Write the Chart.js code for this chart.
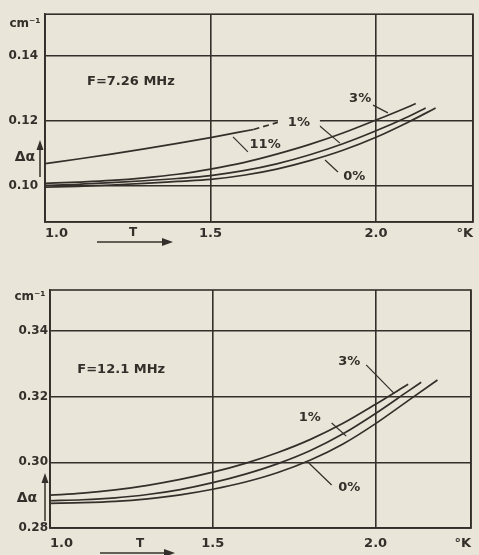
<!DOCTYPE html>
<html>
<head>
<meta charset="utf-8">
<script src="https://cdn.jsdelivr.net/npm/chart.js"></script>
<style>
  html, body { margin: 0; padding: 0; background: #e9e5d8; }
  .panel { position: absolute; left: 0; width: 479px; }
  #top { top: 0; height: 270px; }
  #bot { top: 270px; height: 285px; }
</style>
</head>
<body>
<div class="panel" id="top"><canvas id="c1"></canvas></div>
<div class="panel" id="bot"><canvas id="c2"></canvas></div>
<script>
// --- upper panel, F = 7.26 MHz ---
const topT11 = [1.0, 1.1, 1.2, 1.3, 1.4, 1.5, 1.63];
const top11 = [0.1069, 0.1083, 0.1098, 0.1114, 0.1131, 0.1149, 0.1174];
const topT11Dash = [1.63, 1.71];
const top11Dash = [0.1174, 0.1198];
const topT3 = [1.0, 1.1, 1.2, 1.3, 1.4, 1.5, 1.6, 1.7, 1.8, 1.9, 2.0, 2.1, 2.12];
const top3 = [0.1008, 0.1012, 0.1017, 0.1025, 0.1036, 0.1052, 0.1072, 0.1098, 0.1128, 0.1163, 0.1203, 0.1245, 0.1254];
const topT1 = [1.0, 1.1, 1.2, 1.3, 1.4, 1.5, 1.6, 1.7, 1.8, 1.9, 2.0, 2.1, 2.15];
const top1 = [0.1002, 0.1005, 0.1010, 0.1016, 0.1023, 0.1032, 0.1047, 0.1068, 0.1096, 0.1130, 0.1170, 0.1215, 0.1240];
const topT0 = [1.0, 1.1, 1.2, 1.3, 1.4, 1.5, 1.6, 1.7, 1.8, 1.9, 2.0, 2.1, 2.18];
const top0 = [0.0996, 0.0999, 0.1003, 0.1008, 0.1014, 0.1020, 0.1033, 0.1052, 0.1078, 0.1110, 0.1150, 0.1198, 0.1240];
const topYTicks = [0.10, 0.12, 0.14];
const topYLabels = ['0.10', '0.12', '0.14'];

// --- lower panel, F = 12.1 MHz ---
const botT3 = [1.0, 1.1, 1.2, 1.3, 1.4, 1.5, 1.6, 1.7, 1.8, 1.9, 2.0, 2.1];
const bot3 = [0.2900, 0.2906, 0.2916, 0.2930, 0.2948, 0.2970, 0.2997, 0.3030, 0.3070, 0.3119, 0.3177, 0.3238];
const botT1 = [1.0, 1.1, 1.2, 1.3, 1.4, 1.5, 1.6, 1.7, 1.8, 1.9, 2.0, 2.1, 2.14];
const bot1 = [0.2883, 0.2886, 0.2892, 0.2902, 0.2917, 0.2938, 0.2964, 0.2996, 0.3036, 0.3087, 0.3149, 0.3217, 0.3244];
const botT0 = [1.0, 1.1, 1.2, 1.3, 1.4, 1.5, 1.6, 1.7, 1.8, 1.9, 2.0, 2.1, 2.19];
const bot0 = [0.2875, 0.2877, 0.2881, 0.2889, 0.2901, 0.2918, 0.2940, 0.2969, 0.3007, 0.3056, 0.3118, 0.3188, 0.3251];
const botYTicks = [0.28, 0.30, 0.32, 0.34];
const botYLabels = ['0.28', '0.30', '0.32', '0.34'];

const xTicks = [1.0, 1.5, 2.0, 2.293];
const xLabels = ['1.0', '1.5', '2.0', '°K'];

const INK = '#342f2a';
const PAPER = '#e9e5d8';
const FONT = '"DejaVu Sans", sans-serif';

const pts = (xs, ys) => xs.map((x, i) => ({ x, y: ys[i] }));

function line(data, dash) {
  return {
    data,
    borderColor: INK,
    borderWidth: 1.7,
    borderDash: dash || [],
    pointRadius: 0,
    fill: false,
    cubicInterpolationMode: 'monotone',
  };
}

function arrowHead(ctx, x, y, dir) {
  ctx.beginPath();
  if (dir === 'right') {
    ctx.moveTo(x, y); ctx.lineTo(x - 11, y - 4); ctx.lineTo(x - 11, y + 4);
  } else {
    ctx.moveTo(x, y); ctx.lineTo(x - 3.5, y + 10); ctx.lineTo(x + 3.5, y + 10);
  }
  ctx.closePath();
  ctx.fill();
}

// frame + labels drawn on top of the chart
const decor = {
  id: 'decor',
  afterDraw(chart, args, opts) {
    const { ctx, chartArea: a, scales } = chart;
    const X = scales.x, Y = scales.y;
    ctx.save();
    ctx.strokeStyle = INK;
    ctx.fillStyle = INK;
    ctx.lineWidth = 1.6;
    ctx.strokeRect(a.left, a.top, a.right - a.left, a.bottom - a.top);

    ctx.lineWidth = 1.2;
    (opts.leaders || []).forEach(([x1, y1, x2, y2]) => {
      ctx.beginPath();
      ctx.moveTo(X.getPixelForValue(x1), Y.getPixelForValue(y1));
      ctx.lineTo(X.getPixelForValue(x2), Y.getPixelForValue(y2));
      ctx.stroke();
    });

    ctx.textBaseline = 'middle';
    (opts.notes || []).forEach((n) => {
      ctx.font = n.font || 'bold 13px ' + FONT;
      ctx.textAlign = n.align || 'center';
      const px = n.px !== undefined ? n.px : X.getPixelForValue(n.x);
      const py = n.py !== undefined ? n.py : Y.getPixelForValue(n.y);
      if (n.mask) {
        ctx.fillStyle = PAPER;
        ctx.fillRect(px - n.mask / 2, py - 7, n.mask, 14);
        ctx.fillStyle = INK;
      }
      ctx.fillText(n.text, px, py);
    });

    // axis arrows
    const t = opts.tArrow;
    ctx.lineWidth = 1.5;
    ctx.beginPath();
    ctx.moveTo(t.x1, t.y); ctx.lineTo(t.x2 - 6, t.y); ctx.stroke();
    arrowHead(ctx, t.x2, t.y, 'right');
    ctx.font = 'bold 12px ' + FONT;
    ctx.textAlign = 'center';
    ctx.fillText('T', t.tx, t.y - 9);

    const d = opts.dArrow;
    ctx.beginPath();
    ctx.moveTo(d.x, d.y1); ctx.lineTo(d.x, d.y2 + 6); ctx.stroke();
    arrowHead(ctx, d.x, d.y2, 'up');
    ctx.restore();
  },
};

function makeChart(id, cfg) {
  return new Chart(document.getElementById(id), {
    type: 'line',
    data: { datasets: cfg.datasets },
    options: {
      responsive: true,
      maintainAspectRatio: false,
      animation: false,
      layout: { padding: cfg.padding },
      plugins: { legend: { display: false }, tooltip: { enabled: false }, decor: cfg.decor },
      scales: {
        x: {
          type: 'linear',
          min: 1.0,
          max: 2.293,
          afterBuildTicks: (s) => { s.ticks = xTicks.map((v) => ({ value: v })); },
          afterFit: (s) => { s.height = cfg.xHeight; },
          ticks: {
            autoSkip: false,
            maxRotation: 0,
            align: 'inner',
            padding: cfg.xPad,
            color: INK,
            font: { family: FONT, size: 13, weight: 'bold' },
            callback: (v, i) => xLabels[i],
          },
          grid: { color: INK, lineWidth: 1.6, drawTicks: false },
          border: { color: INK, width: 1.6 },
        },
        y: {
          type: 'linear',
          min: cfg.yMin,
          max: cfg.yMax,
          afterBuildTicks: (s) => { s.ticks = cfg.yTicks.map((v) => ({ value: v })); },
          afterFit: (s) => { s.width = cfg.yWidth; },
          ticks: {
            autoSkip: false,
            padding: cfg.yPad,
            color: INK,
            font: { family: FONT, size: 12, weight: 'bold' },
            callback: (v, i) => cfg.yLabels[i],
          },
          grid: { color: INK, lineWidth: 1.6, drawTicks: false },
          border: { color: INK, width: 1.6 },
        },
      },
    },
    plugins: [decor],
  });
}

makeChart('c1', {
  padding: { top: 14, right: 6, left: 0, bottom: 0 },
  xHeight: 48, xPad: 4, yWidth: 45, yPad: 7,
  yMin: 0.0889, yMax: 0.1529, yTicks: topYTicks, yLabels: topYLabels,
  datasets: [
    line(pts(topT11, top11)),
    line(pts(topT11Dash, top11Dash), [6, 4]),
    line(pts(topT3, top3)),
    line(pts(topT1, top1)),
    line(pts(topT0, top0)),
  ],
  decor: {
    notes: [
      { text: 'cm⁻¹', px: 25, py: 24, font: 'bold 12px ' + FONT },
      { text: 'Δα', px: 25, py: 157, font: 'bold 14px ' + FONT },
      { text: 'F=7.26 MHz', x: 1.127, y: 0.1320, align: 'left' },
      { text: '3%', x: 1.952, y: 0.1268 },
      { text: '1%', x: 1.767, y: 0.1194, mask: 42 },
      { text: '11%', x: 1.665, y: 0.1126 },
      { text: '0%', x: 1.934, y: 0.1028 },
    ],
    leaders: [
      [1.991, 0.1249, 2.036, 0.1225],
      [1.816, 0.1197, 1.891, 0.1132],
      [1.568, 0.1151, 1.613, 0.1105],
      [1.846, 0.1080, 1.885, 0.1043],
    ],
    tArrow: { x1: 97, x2: 173, y: 242, tx: 133 },
    dArrow: { x: 40, y1: 177, y2: 140 },
  },
});

makeChart('c2', {
  padding: { top: 20, right: 4, left: 0, bottom: 0 },
  xHeight: 27, xPad: 8, yWidth: 50, yPad: 2,
  yMin: 0.28, yMax: 0.3525, yTicks: botYTicks, yLabels: botYLabels,
  datasets: [
    line(pts(botT3, bot3)),
    line(pts(botT1, bot1)),
    line(pts(botT0, bot0)),
  ],
  decor: {
    notes: [
      { text: 'cm⁻¹', px: 30, py: 27, font: 'bold 12px ' + FONT },
      { text: 'Δα', px: 27, py: 228, font: 'bold 14px ' + FONT },
      { text: 'F=12.1 MHz', x: 1.084, y: 0.3281, align: 'left' },
      { text: '3%', x: 1.919, y: 0.3306 },
      { text: '1%', x: 1.798, y: 0.3135 },
      { text: '0%', x: 1.919, y: 0.2922 },
    ],
    leaders: [
      [1.971, 0.3297, 2.056, 0.3211],
      [1.865, 0.3120, 1.910, 0.3080],
      [1.865, 0.2931, 1.795, 0.2998],
    ],
    tArrow: { x1: 100, x2: 175, y: 283, tx: 140 },
    dArrow: { x: 45, y1: 251, y2: 203 },
  },
});
</script>
</body>
</html>
